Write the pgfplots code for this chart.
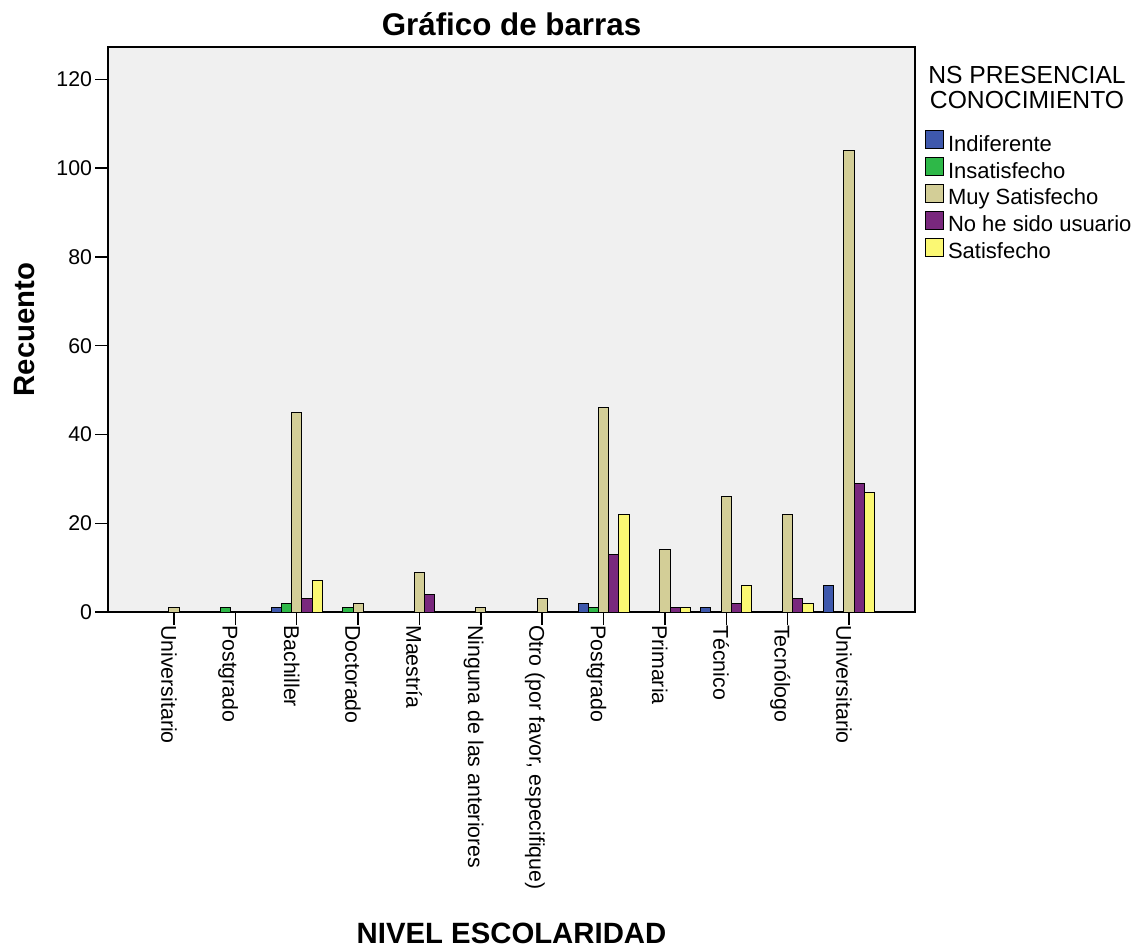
\documentclass[border=0pt]{standalone}
\usepackage{fontspec}
\setmainfont{Liberation Sans}
\usepackage{pgfplots}
\pgfplotsset{compat=1.18}
\definecolor{cInd}{RGB}{62,88,172}
\definecolor{cIns}{RGB}{46,184,72}
\definecolor{cMuy}{RGB}{211,206,151}
\definecolor{cNo}{RGB}{121,40,125}
\definecolor{cSat}{RGB}{251,248,115}
\definecolor{bgc}{RGB}{240,240,240}
\begin{document}
\begin{tikzpicture}
\begin{axis}[
  scale only axis,
  width=605.25pt, height=423.75pt,
  xmin=-1.076, xmax=12.076, ymin=0, ymax=127.3,
  axis background/.style={fill=bgc},
  axis line style={line width=1.1pt, black},
  every tick/.style={line width=1.1pt, black},
  ybar=0pt, bar width=7.65pt,
  tick align=outside, tick pos=left, major tick length=9.75pt,
  xtick={0,...,11},
  xticklabels={Universitario, Postgrado, Bachiller, Doctorado, Maestría, Ninguna de las anteriores, {Otro (por favor, especifique)}, Postgrado, Primaria, Técnico, Tecnólogo, Universitario},
  xticklabel style={xshift=2.25pt, rotate=-90, anchor=north west, inner sep=0pt, font=\fontsize{16}{19}\selectfont},
  ytick={0,20,...,120},
  yticklabel style={font=\fontsize{16}{19}\selectfont, inner sep=2pt},
  /pgf/number format/assume math mode=true,
  title={Gráfico de barras},
  title style={font=\bfseries\fontsize{23.5}{27}\selectfont, at={(axis description cs:0.5,1.026)}, anchor=center},
  xlabel={NIVEL ESCOLARIDAD},
  xlabel style={font=\bfseries\fontsize{22}{26}\selectfont, at={(axis description cs:0.5,-0.568)}, anchor=center},
  ylabel={Recuento},
  ylabel style={font=\bfseries\fontsize{22}{26}\selectfont, at={(axis description cs:-0.103,0.5)}, anchor=center},
  legend style={at={(axis description cs:1.0124,0.8535)}, anchor=north west, draw=none, fill=none,
    font=\fontsize{16.5}{20}\selectfont, inner sep=0pt, row sep=0.75pt,
    nodes={inner xsep=2.75pt, inner ysep=0pt, text height=11.5pt, text depth=3.5pt}},
  legend cell align=left,
  legend image code/.code={\draw[#1, draw=black, line width=0.8pt] (0pt,-2pt) rectangle (13.5pt,11.5pt);},
  every axis plot/.append style={draw=black, line width=0.75pt},
]
\addplot[fill=cInd] coordinates {(2,1) (7,2) (9,1) (11,6)};
\addplot[fill=cIns] coordinates {(1,1) (2,2) (3,1) (7,1)};
\addplot[fill=cMuy] coordinates {(0,1) (2,45) (3,2) (4,9) (5,1) (6,3) (7,46) (8,14) (9,26) (10,22) (11,104)};
\addplot[fill=cNo] coordinates {(2,3) (4,4) (7,13) (8,1) (9,2) (10,3) (11,29)};
\addplot[fill=cSat] coordinates {(2,7) (7,22) (8,1) (9,6) (10,2) (11,27)};
\legend{Indiferente, Insatisfecho, Muy Satisfecho, No he sido usuario, Satisfecho}
\coordinate (O) at (rel axis cs:0,0);
\coordinate (LT) at (rel axis cs:1.1388,0.928);
\end{axis}
\node[align=center, font=\fontsize{18.5}{18.75}\selectfont, inner sep=0pt] at (LT) {NS PRESENCIAL\\CONOCIMIENTO};
\pgfresetboundingbox
\path (O) ++(-81pt,-252.75pt) rectangle ++(850.5pt,711.75pt);
\end{tikzpicture}
\end{document}
